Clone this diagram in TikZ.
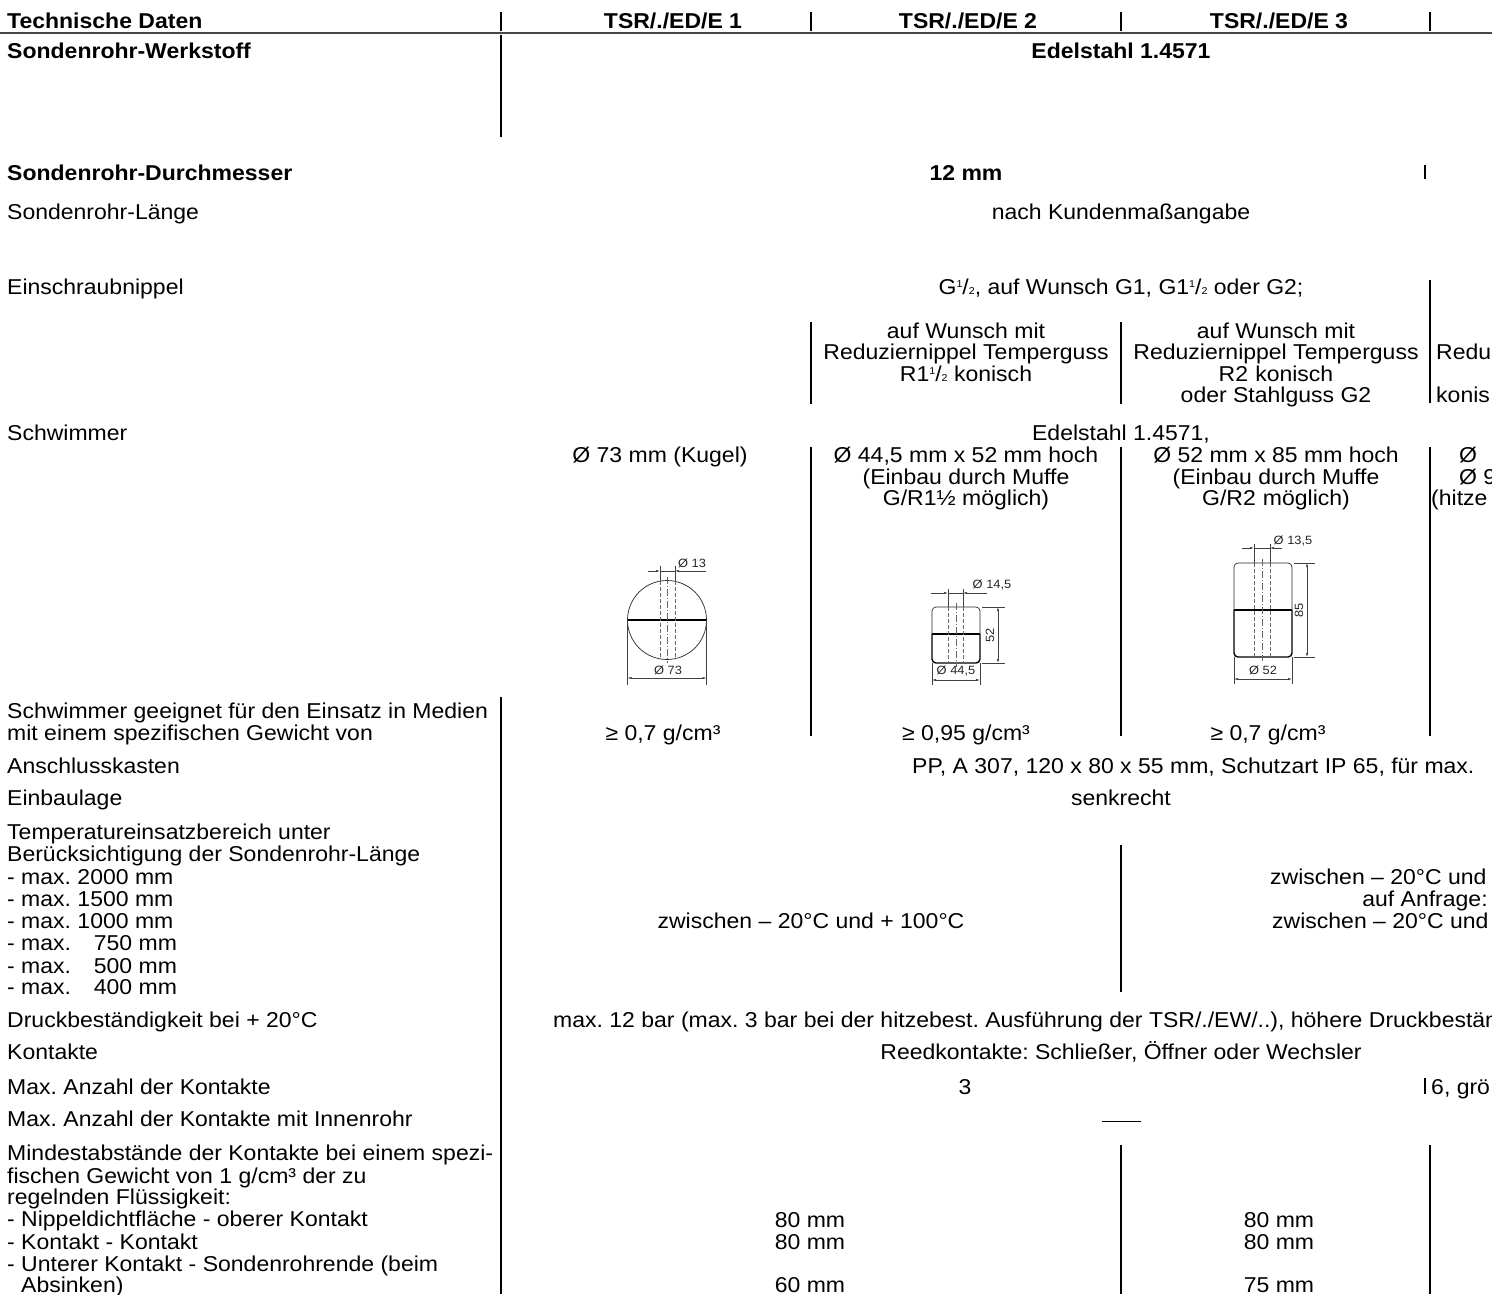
\documentclass[tikz,border=0pt]{standalone}
\usepackage{fontspec}
\setmainfont[FakeStretch=1.07]{Liberation Sans}
\usetikzlibrary{arrows.meta}
\newcommand\fs{\fontsize{21.5}{22}\selectfont\frenchspacing}
\newcommand\dfs{\fontsize{12}{12}\selectfont}
\newcommand\fr[2]{\raisebox{0.6ex}{\fontsize{10}{10}\selectfont #1}/{\fontsize{10}{10}\selectfont #2}}
\tikzset{
  lbl/.style={anchor=base west, inner sep=0pt, font=\fs},
  cen/.style={anchor=base, inner sep=0pt, font=\fs},
  blbl/.style={anchor=base west, inner sep=0pt, font=\fs\bfseries},
  bcen/.style={anchor=base, inner sep=0pt, font=\fs\bfseries},
  vl/.style={line width=1.1pt, black},
  dimln/.style={line width=0.5pt, black!75},
  arr/.style={-{Latex[length=4pt,width=2.2pt]}},
  hid/.style={dash pattern=on 4pt off 2pt, line width=0.6pt, black!60},
  ctr/.style={dash pattern=on 7pt off 2pt on 1pt off 2pt, line width=0.5pt, black!60},
  dimtxt/.style={inner sep=0pt, font=\dfs, text=black!85},
  body/.style={line width=0.7pt, black!85}
}
\begin{document}
\frenchspacing
\begin{tikzpicture}[x=1pt,y=-1pt]
\useasboundingbox (0,0) rectangle (1492,1294);
\clip (0,0) rectangle (1492,1294);

% ---------- header ----------
\node[blbl] (h0) at (7,28) {Technische Daten};
\node[bcen] (h1) at (673,28) {TSR/./ED/E 1};
\node[bcen] (h2) at (968,28) {TSR/./ED/E 2};
\node[bcen] (h3) at (1279,28) {TSR/./ED/E 3};
\draw[line width=2.6pt, black!72] (0,33) -- (1492,33);
\foreach \x in {501,811,1121,1430} \draw[vl] (\x,12) -- (\x,31);

% ---------- table lines ----------
\draw[vl] (501,35) -- (501,137);
\draw[vl] (1425,165) -- (1425,179);
\draw[vl] (1430,280) -- (1430,403);
\draw[vl] (811,322) -- (811,404);
\draw[vl] (1121,322) -- (1121,404);
\draw[vl] (811,447) -- (811,736);
\draw[vl] (1121,447) -- (1121,736);
\draw[vl] (1430,447) -- (1430,736);
\draw[vl] (501,697) -- (501,1294);
\draw[vl] (1121,845) -- (1121,992);
\draw[vl] (1425,1078) -- (1425,1094);
\draw[vl] (1121,1145) -- (1121,1294);
\draw[vl] (1430,1145) -- (1430,1294);

% ---------- rows ----------
\node[blbl] (l1) at (7,58) {Sondenrohr-Werkstoff};
\node[bcen] (v1) at (1121,58) {Edelstahl 1.4571};

\node[blbl] (l2) at (7,180) {Sondenrohr-Durchmesser};
\node[bcen] (v2) at (966,180) {12 mm};

\node[lbl] (l3) at (7,219) {Sondenrohr-Länge};
\node[cen] (v3) at (1121,219) {nach Kundenmaßangabe};

\node[lbl] (l4) at (7,294) {Einschraubnippel};
\node[cen] (v4) at (1121,294) {G\fr12, auf Wunsch G1, G1\fr12 oder G2;};
\node[cen] (c2a) at (966,338) {auf Wunsch mit};
\node[cen] (c2b) at (966,359) {Reduziernippel Temperguss};
\node[cen] (c2c) at (966,381) {R1\fr12 konisch};
\node[cen] (c3a) at (1276,338) {auf Wunsch mit};
\node[cen] (c3b) at (1276,359) {Reduziernippel Temperguss};
\node[cen] (c3c) at (1276,381) {R2\,\,konisch};
\node[cen] (c3d) at (1276,402) {oder Stahlguss G2};
\node[lbl] (c4b) at (1436,359) {Redu};
\node[lbl] (c4d) at (1436,402) {konis};

\node[lbl] (l5) at (7,440) {Schwimmer};
\node[cen] (v5) at (1121,440) {Edelstahl 1.4571,};
\node[cen] (s1) at (660,462) {Ø 73 mm (Kugel)};
\node[cen] (s2a) at (966,462) {Ø 44,5 mm x 52 mm hoch};
\node[cen] (s2b) at (966,484) {(Einbau durch Muffe};
\node[cen] (s2c) at (966,505) {G/R1½ möglich)};
\node[cen] (s3a) at (1276,462) {Ø 52 mm x 85 mm hoch};
\node[cen] (s3b) at (1276,484) {(Einbau durch Muffe};
\node[cen] (s3c) at (1276,505) {G/R2\,\,möglich)};
\node[lbl] (s4a) at (1459,462) {Ø};
\node[lbl] (s4b) at (1459,484) {Ø 9};
\node[lbl] (s4c) at (1431,505) {(hitze};

% ---------- float drawing 1 (sphere) ----------
\draw[body] (667,620) circle [radius=39.5];
\draw[line width=1.8pt] (627.5,620) -- (706.5,620);
\draw[hid] (660,581) -- (660,659);
\draw[hid] (675,581) -- (675,659);
\draw[ctr] (667,577) -- (667,663);
\draw[dimln] (660,566) -- (660,581);
\draw[dimln] (675,566) -- (675,581);
\draw[dimln,arr] (648,571) -- (660,571);
\draw[dimln,arr] (706,571) -- (675,571);
\draw[dimln] (660,571) -- (675,571);
\node[dimtxt] (f1a) at (692,563) {Ø 13};
\draw[dimln] (627.5,620) -- (627.5,685);
\draw[dimln] (706.5,620) -- (706.5,685);
\draw[dimln,{Latex[length=4pt,width=2.2pt]}-{Latex[length=4pt,width=2.2pt]}] (627.5,678) -- (706.5,678);
\node[dimtxt] (f1b) at (668,670) {Ø 73};

% ---------- float drawing 2 ----------
\draw[body, rounded corners=4pt] (932,634) -- (932,607) -- (980,607) -- (980,634);
\draw[line width=1.4pt, rounded corners=4pt] (932,634) -- (932,663) -- (980,663) -- (980,634);
\draw[line width=1.8pt] (932,634) -- (980,634);
\draw[hid] (948,607) -- (948,663);
\draw[hid] (963,607) -- (963,663);
\draw[ctr] (956,603) -- (956,667);
\draw[dimln] (948,589) -- (948,607);
\draw[dimln] (963,589) -- (963,607);
\draw[dimln,arr] (931,593) -- (948,593);
\draw[dimln,arr] (987,593) -- (963,593);
\draw[dimln] (948,593) -- (963,593);
\node[dimtxt] (f2a) at (992,585) {Ø 14,5};
\draw[dimln] (982,607) -- (1005,607);
\draw[dimln] (982,663) -- (1005,663);
\draw[dimln,{Latex[length=4pt,width=2.2pt]}-{Latex[length=4pt,width=2.2pt]}] (998,607) -- (998,663);
\node[dimtxt, rotate=90] (f2b) at (990,635) {52};
\draw[dimln] (932,663) -- (932,685);
\draw[dimln] (980,663) -- (980,685);
\draw[dimln,{Latex[length=4pt,width=2.2pt]}-{Latex[length=4pt,width=2.2pt]}] (932,680) -- (980,680);
\node[dimtxt] (f2c) at (956,671) {Ø 44,5};

% ---------- float drawing 3 ----------
\draw[body, rounded corners=4pt] (1234,610) -- (1234,563) -- (1292,563) -- (1292,610);
\draw[line width=1.4pt, rounded corners=4pt] (1234,610) -- (1234,657) -- (1292,657) -- (1292,610);
\draw[line width=1.8pt] (1234,610) -- (1292,610);
\draw[hid] (1254,563) -- (1254,657);
\draw[hid] (1270,563) -- (1270,657);
\draw[ctr] (1262,559) -- (1262,661);
\draw[dimln] (1254,544) -- (1254,563);
\draw[dimln] (1270,544) -- (1270,563);
\draw[dimln,arr] (1242,548) -- (1254,548);
\draw[dimln,arr] (1282,548) -- (1270,548);
\draw[dimln] (1254,548) -- (1270,548);
\node[dimtxt] (f3a) at (1293,541) {Ø 13,5};
\draw[dimln] (1294,563) -- (1315,563);
\draw[dimln] (1294,657) -- (1315,657);
\draw[dimln,{Latex[length=4pt,width=2.2pt]}-{Latex[length=4pt,width=2.2pt]}] (1307,563) -- (1307,657);
\node[dimtxt, rotate=90] (f3b) at (1299,610) {85};
\draw[dimln] (1234,657) -- (1234,684);
\draw[dimln] (1292,657) -- (1292,684);
\draw[dimln,{Latex[length=4pt,width=2.2pt]}-{Latex[length=4pt,width=2.2pt]}] (1234,679) -- (1292,679);
\node[dimtxt] (f3c) at (1263,670) {Ø 52};

% ---------- lower rows ----------
\node[lbl] (l6a) at (7,718) {Schwimmer geeignet für den Einsatz in Medien};
\node[lbl] (l6b) at (7,740) {mit einem spezifischen Gewicht von};
\node[cen] (d1) at (663,740) {≥ 0,7 g/cm³};
\node[cen] (d2) at (966,740) {≥ 0,95 g/cm³};
\node[cen] (d3) at (1268,740) {≥ 0,7 g/cm³};

\node[lbl] (l7) at (7,773) {Anschlusskasten};
\node[lbl] (v7) at (912,773) {PP, A 307, 120 x 80 x 55 mm, Schutzart IP 65, für max.};

\node[lbl] (l8) at (7,805) {Einbaulage};
\node[cen] (v8) at (1121,805) {senkrecht};

\node[lbl] (l9a) at (7,839) {Temperatureinsatzbereich unter};
\node[lbl] (l9b) at (7,861) {Berücksichtigung der Sondenrohr-Länge};
\node[lbl] (l9c) at (7,884) {- max. 2000 mm};
\node[lbl] (l9d) at (7,906) {- max. 1500 mm};
\node[lbl] (l9e) at (7,928) {- max. 1000 mm};
\node[lbl] (l9f) at (7,950) {- max. \hphantom{0}\,750 mm};
\node[lbl] (l9g) at (7,973) {- max. \hphantom{0}\,500 mm};
\node[lbl] (l9h) at (7,994) {- max. \hphantom{0}\,400 mm};
\node[cen] (v9) at (811,928) {zwischen – 20°C und + 100°C};
\node[lbl] (w1) at (1270,884) {zwischen – 20°C und};
\node[cen] (w2) at (1425,906) {auf Anfrage:};
\node[lbl] (w3) at (1272,928) {zwischen – 20°C und};

\node[lbl] (l10) at (7,1027) {Druckbeständigkeit bei + 20°C};
\node[lbl] (v10) at (553,1027) {max. 12 bar (max. 3 bar bei der hitzebest. Ausführung der TSR/./EW/..), höhere Druckbestän};

\node[lbl] (l11) at (7,1059) {Kontakte};
\node[cen] (v11) at (1121,1059) {Reedkontakte: Schließer, Öffner oder Wechsler};

\node[lbl] (l12) at (7,1094) {Max. Anzahl der Kontakte};
\node[cen] (v12) at (965,1094) {3};
\node[lbl] (v12b) at (1431,1094) {6, grö};

\node[lbl] (l13) at (7,1126) {Max. Anzahl der Kontakte mit Innenrohr};
\draw[line width=1pt] (1102,1121) -- (1141,1121);

\node[lbl] (l14a) at (7,1160) {Mindestabstände der Kontakte bei einem spezi-};
\node[lbl] (l14b) at (7,1183) {fischen Gewicht von 1 g/cm³ der zu};
\node[lbl] (l14c) at (7,1204) {regelnden Flüssigkeit:};
\node[lbl] (l14d) at (7,1226) {- Nippeldichtfläche - oberer Kontakt};
\node[lbl] (l14e) at (7,1249) {- Kontakt - Kontakt};
\node[lbl] (l14f) at (7,1271) {- Unterer Kontakt - Sondenrohrende (beim};
\node[lbl] (l14g) at (21,1292) {Absinken)};
\node[cen] (m1) at (810,1227) {80 mm};
\node[cen] (m2) at (810,1249) {80 mm};
\node[cen] (m3) at (810,1292) {60 mm};
\node[cen] (m4) at (1279,1227) {80 mm};
\node[cen] (m5) at (1279,1249) {80 mm};
\node[cen] (m6) at (1279,1292) {75 mm};
\end{tikzpicture}
\end{document}
